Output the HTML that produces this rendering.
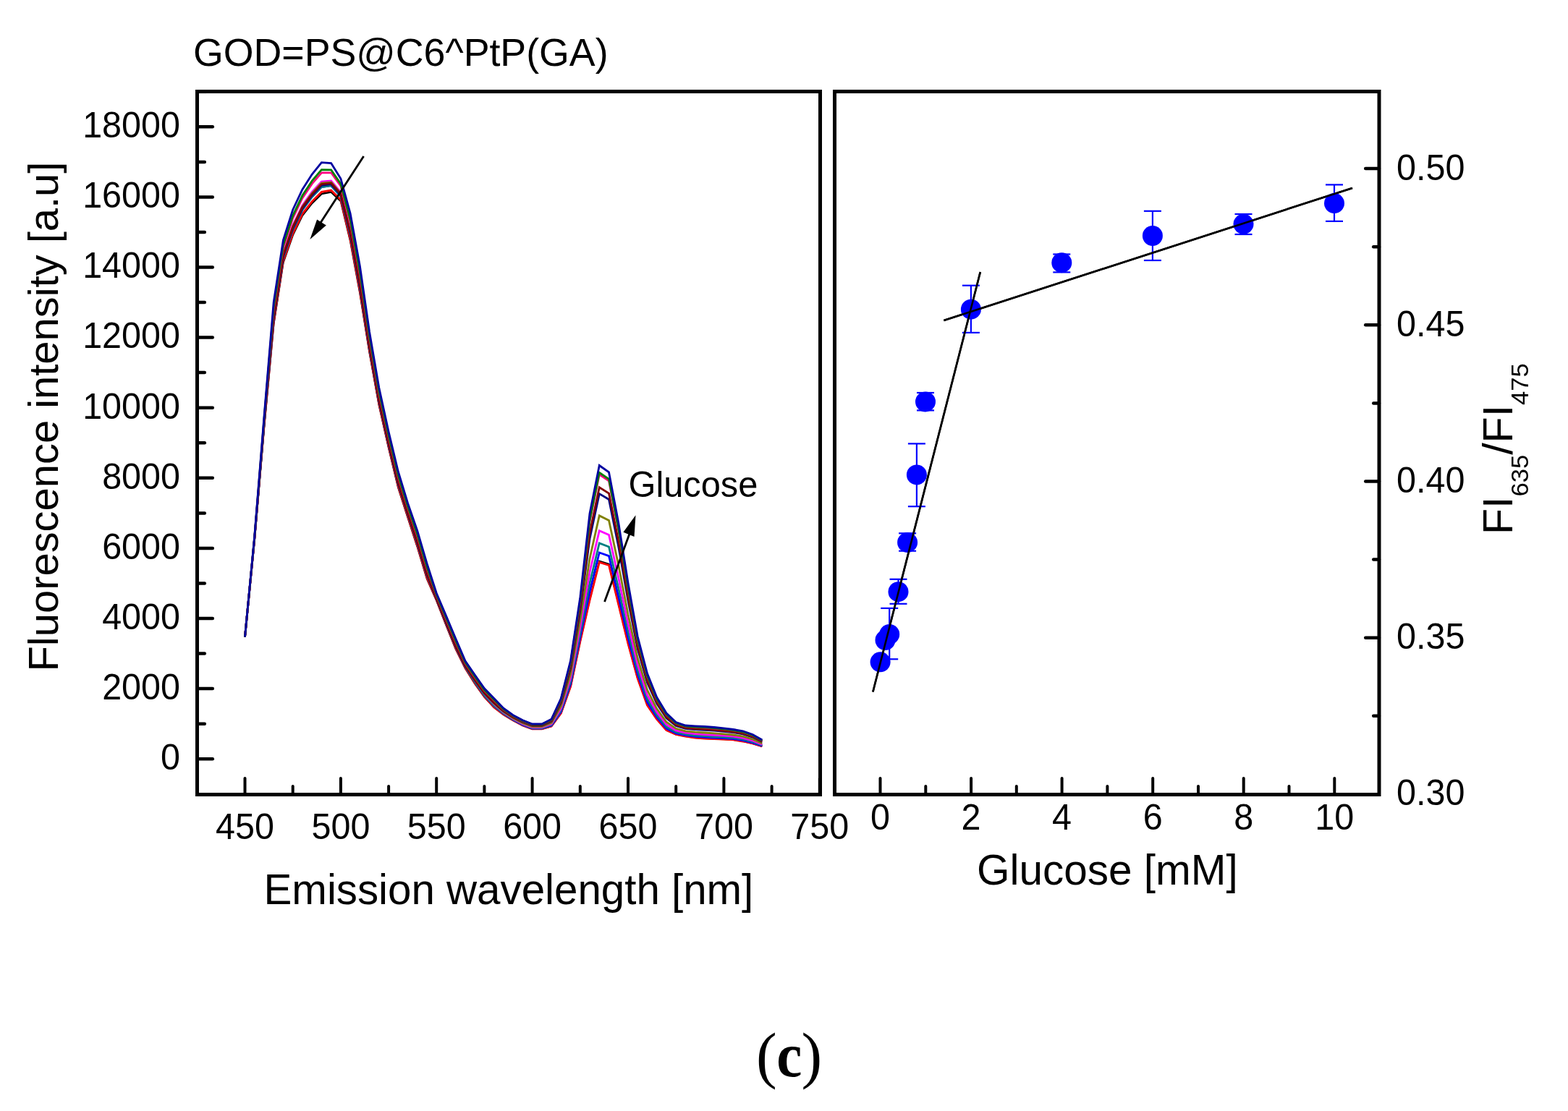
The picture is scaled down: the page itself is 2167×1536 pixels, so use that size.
<!DOCTYPE html>
<html><head><meta charset="utf-8"><title>GOD=PS@C6^PtP(GA)</title>
<style>html,body{margin:0;padding:0;background:#fff;width:2167px;height:1536px;overflow:hidden}svg{display:block}</style>
</head><body>
<svg width="2167" height="1536" viewBox="0 0 2167 1536">
<rect width="100%" height="100%" fill="#ffffff"/>
<g>
<polyline points="338.5,880.7 351.7,746.0 365.0,590.0 378.2,448.0 391.4,363.0 404.7,325.0 417.9,298.0 431.2,281.0 444.4,268.0 457.6,265.5 470.9,278.0 484.1,333.0 497.4,405.0 510.6,487.0 523.8,560.0 537.1,619.0 550.3,674.0 563.5,715.0 576.8,756.0 590.0,800.0 603.2,830.0 616.5,864.0 629.7,897.0 643.0,924.0 656.2,945.0 669.4,963.4 682.7,977.9 695.9,987.9 709.1,995.9 722.4,1002.9 735.6,1007.7 748.9,1007.7 762.1,1003.9 775.3,985.8 788.6,948.6 801.8,886.3 815.0,828.6 828.3,775.8 841.5,780.0 854.8,834.6 868.0,889.0 881.2,937.3 894.5,974.5 907.7,994.1 921.0,1009.2 934.2,1015.3 947.4,1017.8 960.7,1019.8 973.9,1020.8 987.1,1021.5 1000.4,1022.0 1013.6,1022.7 1026.8,1024.8 1040.1,1027.8 1053.3,1031.9" fill="none" stroke="#000000" stroke-width="2.5" stroke-linejoin="miter"/>
<polyline points="338.5,880.7 351.7,745.8 365.0,589.2 378.2,446.2 391.4,361.1 404.7,322.9 417.9,295.8 431.2,278.6 444.4,265.4 457.6,263.1 470.9,276.1 484.1,330.7 497.4,402.8 510.6,485.3 523.8,558.6 537.1,617.7 550.3,672.7 563.5,713.8 576.8,754.7 590.0,798.7 603.2,829.4 616.5,863.2 629.7,896.1 643.0,923.5 656.2,944.5 669.4,963.1 682.7,977.6 695.9,987.8 709.1,995.9 722.4,1002.9 735.6,1007.8 748.9,1007.8 762.1,1004.0 775.3,986.0 788.6,949.0 801.8,887.0 815.0,830.0 828.3,777.4 841.5,781.5 854.8,836.0 868.0,890.0 881.2,938.0 894.5,975.0 907.7,994.5 921.0,1009.5 934.2,1015.5 947.4,1018.0 960.7,1020.0 973.9,1021.0 987.1,1021.7 1000.4,1022.2 1013.6,1022.9 1026.8,1025.0 1040.1,1028.0 1053.3,1032.0" fill="none" stroke="#ff0000" stroke-width="2.8" stroke-linejoin="miter"/>
<polyline points="338.5,880.7 351.7,745.1 365.0,586.9 378.2,441.4 391.4,356.2 404.7,317.3 417.9,290.1 431.2,272.2 444.4,258.5 457.6,256.7 470.9,271.2 484.1,324.6 497.4,396.9 510.6,480.8 523.8,554.7 537.1,614.2 550.3,669.2 563.5,710.7 576.8,751.2 590.0,795.4 603.2,827.8 616.5,861.2 629.7,893.9 643.0,921.9 656.2,942.7 669.4,961.5 682.7,976.0 695.9,986.7 709.1,995.1 722.4,1002.2 735.6,1007.1 748.9,1007.1 762.1,1003.0 775.3,984.0 788.6,945.4 801.8,880.9 815.0,818.0 828.3,764.0 841.5,768.6 854.8,824.7 868.0,881.6 881.2,932.2 894.5,970.6 907.7,991.5 921.0,1007.1 934.2,1013.8 947.4,1016.5 960.7,1018.4 973.9,1019.4 987.1,1020.1 1000.4,1020.7 1013.6,1021.5 1026.8,1023.6 1040.1,1026.8 1053.3,1031.1" fill="none" stroke="#0000ff" stroke-width="2.8" stroke-linejoin="miter"/>
<polyline points="338.5,880.7 351.7,745.1 365.0,586.9 378.2,441.4 391.4,356.2 404.7,317.3 417.9,290.1 431.2,272.2 444.4,258.5 457.6,256.7 470.9,271.2 484.1,324.6 497.4,396.9 510.6,480.8 523.8,554.7 537.1,614.2 550.3,669.2 563.5,710.7 576.8,751.2 590.0,795.4 603.2,827.8 616.5,861.2 629.7,893.9 643.0,921.8 656.2,942.4 669.4,961.0 682.7,975.4 695.9,986.2 709.1,994.5 722.4,1001.5 735.6,1006.5 748.9,1006.5 762.1,1002.1 775.3,981.9 788.6,941.9 801.8,874.9 815.0,806.2 828.3,750.9 841.5,756.0 854.8,813.6 868.0,873.4 881.2,926.5 894.5,966.3 907.7,988.5 921.0,1004.8 934.2,1012.1 947.4,1015.0 960.7,1016.8 973.9,1017.7 987.1,1018.5 1000.4,1019.2 1013.6,1020.0 1026.8,1022.2 1040.1,1025.5 1053.3,1030.2" fill="none" stroke="#008080" stroke-width="2.8" stroke-linejoin="miter"/>
<polyline points="338.5,880.7 351.7,744.4 365.0,584.5 378.2,436.3 391.4,350.9 404.7,311.4 417.9,284.0 431.2,265.4 444.4,251.1 457.6,249.9 470.9,265.9 484.1,318.2 497.4,390.6 510.6,476.1 523.8,550.6 537.1,610.4 550.3,665.4 563.5,707.4 576.8,747.4 590.0,791.8 603.2,826.1 616.5,859.1 629.7,891.4 643.0,920.1 656.2,940.5 669.4,959.2 682.7,973.5 695.9,984.9 709.1,993.5 722.4,1000.6 735.6,1005.6 748.9,1005.6 762.1,1000.8 775.3,979.3 788.6,937.2 801.8,867.1 815.0,790.8 828.3,733.6 841.5,739.4 854.8,799.0 868.0,862.5 881.2,919.0 894.5,960.6 907.7,984.5 921.0,1001.8 934.2,1009.9 947.4,1013.1 960.7,1014.7 973.9,1015.6 987.1,1016.4 1000.4,1017.2 1013.6,1018.2 1026.8,1020.4 1040.1,1023.9 1053.3,1029.1" fill="none" stroke="#ff00ff" stroke-width="2.8" stroke-linejoin="miter"/>
<polyline points="338.5,880.7 351.7,744.6 365.0,585.2 378.2,437.8 391.4,352.5 404.7,313.1 417.9,285.8 431.2,267.4 444.4,253.2 457.6,251.9 470.9,267.5 484.1,320.1 497.4,392.4 510.6,477.5 523.8,551.8 537.1,611.5 550.3,666.5 563.5,708.4 576.8,748.5 590.0,792.9 603.2,826.6 616.5,859.7 629.7,892.1 643.0,920.4 656.2,940.5 669.4,958.9 682.7,972.8 695.9,984.2 709.1,992.7 722.4,999.6 735.6,1004.5 748.9,1004.5 762.1,999.3 775.3,976.1 788.6,931.6 801.8,857.6 815.0,772.2 828.3,712.9 841.5,719.5 854.8,781.5 868.0,849.5 881.2,910.0 894.5,953.8 907.7,979.8 921.0,998.2 934.2,1007.3 947.4,1010.8 960.7,1012.2 973.9,1013.0 987.1,1013.9 1000.4,1014.8 1013.6,1016.0 1026.8,1018.2 1040.1,1022.0 1053.3,1027.7" fill="none" stroke="#808000" stroke-width="2.8" stroke-linejoin="miter"/>
<polyline points="338.5,880.7 351.7,744.9 365.0,586.2 378.2,439.9 391.4,354.6 404.7,315.6 417.9,288.3 431.2,270.2 444.4,256.3 457.6,254.7 470.9,269.6 484.1,322.7 497.4,395.0 510.6,479.4 523.8,553.5 537.1,613.1 550.3,668.1 563.5,709.7 576.8,750.1 590.0,794.3 603.2,827.3 616.5,860.6 629.7,893.1 643.0,920.7 656.2,940.4 669.4,958.4 682.7,971.8 695.9,983.2 709.1,991.6 722.4,998.2 735.6,1003.0 748.9,1003.0 762.1,997.1 775.3,971.5 788.6,923.5 801.8,843.8 815.0,745.0 828.3,682.6 841.5,690.5 854.8,756.0 868.0,830.5 881.2,896.9 894.5,943.8 907.7,972.9 921.0,992.9 934.2,1003.5 947.4,1007.4 960.7,1008.5 973.9,1009.3 987.1,1010.2 1000.4,1011.3 1013.6,1012.7 1026.8,1014.9 1040.1,1019.1 1053.3,1025.6" fill="none" stroke="#000080" stroke-width="2.8" stroke-linejoin="miter"/>
<polyline points="338.5,880.7 351.7,744.8 365.0,585.7 378.2,438.7 391.4,353.4 404.7,314.1 417.9,286.8 431.2,268.6 444.4,254.5 457.6,253.1 470.9,268.4 484.1,321.2 497.4,393.5 510.6,478.3 523.8,552.6 537.1,612.2 550.3,667.2 563.5,709.0 576.8,749.2 590.0,793.5 603.2,826.9 616.5,860.1 629.7,892.6 643.0,920.2 656.2,939.9 669.4,957.8 682.7,971.2 695.9,982.7 709.1,991.2 722.4,997.8 735.6,1002.5 748.9,1002.5 762.1,996.5 775.3,970.1 788.6,921.1 801.8,839.8 815.0,737.1 828.3,673.8 841.5,682.0 854.8,748.5 868.0,825.0 881.2,893.1 894.5,940.9 907.7,970.9 921.0,991.3 934.2,1002.3 947.4,1006.4 960.7,1007.5 973.9,1008.2 987.1,1009.2 1000.4,1010.3 1013.6,1011.8 1026.8,1014.0 1040.1,1018.3 1053.3,1025.0" fill="none" stroke="#800000" stroke-width="2.8" stroke-linejoin="miter"/>
<polyline points="338.5,880.7 351.7,743.3 365.0,580.6 378.2,427.9 391.4,342.2 404.7,301.6 417.9,273.9 431.2,254.2 444.4,238.9 457.6,238.8 470.9,257.2 484.1,307.5 497.4,380.2 510.6,468.2 523.8,543.9 537.1,604.3 550.3,659.3 563.5,701.9 576.8,741.3 590.0,785.9 603.2,823.3 616.5,855.6 629.7,887.4 643.0,916.9 656.2,936.2 669.4,954.6 682.7,968.1 695.9,980.8 709.1,989.8 722.4,996.6 735.6,1001.6 748.9,1001.6 762.1,995.2 775.3,967.4 788.6,916.3 801.8,831.7 815.0,721.2 828.3,656.0 841.5,664.9 854.8,733.5 868.0,813.8 881.2,885.4 894.5,935.1 907.7,966.8 921.0,988.2 934.2,1000.1 947.4,1004.4 960.7,1005.3 973.9,1006.0 987.1,1007.0 1000.4,1008.2 1013.6,1009.8 1026.8,1012.1 1040.1,1016.7 1053.3,1023.8" fill="none" stroke="#ff0080" stroke-width="2.8" stroke-linejoin="miter"/>
<polyline points="338.5,880.7 351.7,742.9 365.0,579.2 378.2,424.9 391.4,339.1 404.7,298.1 417.9,270.3 431.2,250.2 444.4,234.6 457.6,234.8 470.9,254.1 484.1,303.7 497.4,376.5 510.6,465.4 523.8,541.5 537.1,602.1 550.3,657.1 563.5,700.0 576.8,739.1 590.0,783.8 603.2,822.3 616.5,854.3 629.7,886.0 643.0,915.9 656.2,935.3 669.4,953.8 682.7,967.3 695.9,980.4 709.1,989.5 722.4,996.4 735.6,1001.5 748.9,1001.5 762.1,995.0 775.3,967.0 788.6,915.7 801.8,830.5 815.0,718.9 828.3,653.4 841.5,662.4 854.8,731.4 868.0,812.2 881.2,884.3 894.5,934.3 907.7,966.3 921.0,987.7 934.2,999.8 947.4,1004.1 960.7,1005.0 973.9,1005.7 987.1,1006.7 1000.4,1007.9 1013.6,1009.6 1026.8,1011.9 1040.1,1016.4 1053.3,1023.7" fill="none" stroke="#008000" stroke-width="2.8" stroke-linejoin="miter"/>
<polyline points="338.5,880.7 351.7,742.0 365.0,576.0 378.2,418.0 391.4,332.0 404.7,290.0 417.9,262.0 431.2,241.0 444.4,224.6 457.6,225.6 470.9,247.0 484.1,295.0 497.4,368.0 510.6,459.0 523.8,536.0 537.1,597.0 550.3,652.0 563.5,695.5 576.8,734.0 590.0,779.0 603.2,820.0 616.5,851.4 629.7,882.7 643.0,913.8 656.2,933.0 669.4,951.8 682.7,965.4 695.9,979.2 709.1,988.7 722.4,995.7 735.6,1001.0 748.9,1001.0 762.1,994.3 775.3,965.5 788.6,913.0 801.8,826.0 815.0,710.0 828.3,643.5 841.5,652.9 854.8,723.0 868.0,806.0 881.2,880.0 894.5,931.0 907.7,964.0 921.0,986.0 934.2,998.5 947.4,1003.0 960.7,1003.8 973.9,1004.5 987.1,1005.5 1000.4,1006.8 1013.6,1008.5 1026.8,1010.8 1040.1,1015.5 1053.3,1023.0" fill="none" stroke="#0000a0" stroke-width="2.8" stroke-linejoin="miter"/>
</g>
<line x1="502.6" y1="215.9" x2="441" y2="311" stroke="#000" stroke-width="2.8"/>
<polygon points="428.4,331.1 438.1,303.4 450.8,311.6" fill="#000"/>
<line x1="835.5" y1="831.9" x2="870" y2="738" stroke="#000" stroke-width="2.8"/>
<polygon points="878.5,712.3 861.4,735.7 876.5,742" fill="#000"/>
<rect x="272.5" y="126.5" width="861" height="972" fill="none" stroke="#000" stroke-width="5"/>
<line x1="273" y1="1049.2" x2="293.8" y2="1049.2" stroke="#000" stroke-width="4.5" stroke-linecap="round"/>
<line x1="273" y1="1000.7" x2="282.8" y2="1000.7" stroke="#000" stroke-width="4.5" stroke-linecap="round"/>
<line x1="273" y1="952.1" x2="293.8" y2="952.1" stroke="#000" stroke-width="4.5" stroke-linecap="round"/>
<line x1="273" y1="903.6" x2="282.8" y2="903.6" stroke="#000" stroke-width="4.5" stroke-linecap="round"/>
<line x1="273" y1="855.0" x2="293.8" y2="855.0" stroke="#000" stroke-width="4.5" stroke-linecap="round"/>
<line x1="273" y1="806.5" x2="282.8" y2="806.5" stroke="#000" stroke-width="4.5" stroke-linecap="round"/>
<line x1="273" y1="757.9" x2="293.8" y2="757.9" stroke="#000" stroke-width="4.5" stroke-linecap="round"/>
<line x1="273" y1="709.4" x2="282.8" y2="709.4" stroke="#000" stroke-width="4.5" stroke-linecap="round"/>
<line x1="273" y1="660.8" x2="293.8" y2="660.8" stroke="#000" stroke-width="4.5" stroke-linecap="round"/>
<line x1="273" y1="612.2" x2="282.8" y2="612.2" stroke="#000" stroke-width="4.5" stroke-linecap="round"/>
<line x1="273" y1="563.7" x2="293.8" y2="563.7" stroke="#000" stroke-width="4.5" stroke-linecap="round"/>
<line x1="273" y1="515.1" x2="282.8" y2="515.1" stroke="#000" stroke-width="4.5" stroke-linecap="round"/>
<line x1="273" y1="466.6" x2="293.8" y2="466.6" stroke="#000" stroke-width="4.5" stroke-linecap="round"/>
<line x1="273" y1="418.0" x2="282.8" y2="418.0" stroke="#000" stroke-width="4.5" stroke-linecap="round"/>
<line x1="273" y1="369.5" x2="293.8" y2="369.5" stroke="#000" stroke-width="4.5" stroke-linecap="round"/>
<line x1="273" y1="321.0" x2="282.8" y2="321.0" stroke="#000" stroke-width="4.5" stroke-linecap="round"/>
<line x1="273" y1="272.4" x2="293.8" y2="272.4" stroke="#000" stroke-width="4.5" stroke-linecap="round"/>
<line x1="273" y1="223.9" x2="282.8" y2="223.9" stroke="#000" stroke-width="4.5" stroke-linecap="round"/>
<line x1="273" y1="175.3" x2="293.8" y2="175.3" stroke="#000" stroke-width="4.5" stroke-linecap="round"/>
<line x1="275" y1="126.8" x2="285" y2="126.8" stroke="#000" stroke-width="4.5"/>
<line x1="338.5" y1="1098" x2="338.5" y2="1076.0" stroke="#000" stroke-width="4" stroke-linecap="round"/>
<line x1="404.7" y1="1098" x2="404.7" y2="1087.0" stroke="#000" stroke-width="4" stroke-linecap="round"/>
<line x1="470.9" y1="1098" x2="470.9" y2="1076.0" stroke="#000" stroke-width="4" stroke-linecap="round"/>
<line x1="537.1" y1="1098" x2="537.1" y2="1087.0" stroke="#000" stroke-width="4" stroke-linecap="round"/>
<line x1="603.2" y1="1098" x2="603.2" y2="1076.0" stroke="#000" stroke-width="4" stroke-linecap="round"/>
<line x1="669.4" y1="1098" x2="669.4" y2="1087.0" stroke="#000" stroke-width="4" stroke-linecap="round"/>
<line x1="735.6" y1="1098" x2="735.6" y2="1076.0" stroke="#000" stroke-width="4" stroke-linecap="round"/>
<line x1="801.8" y1="1098" x2="801.8" y2="1087.0" stroke="#000" stroke-width="4" stroke-linecap="round"/>
<line x1="868.0" y1="1098" x2="868.0" y2="1076.0" stroke="#000" stroke-width="4" stroke-linecap="round"/>
<line x1="934.2" y1="1098" x2="934.2" y2="1087.0" stroke="#000" stroke-width="4" stroke-linecap="round"/>
<line x1="1000.4" y1="1098" x2="1000.4" y2="1076.0" stroke="#000" stroke-width="4" stroke-linecap="round"/>
<line x1="1066.6" y1="1098" x2="1066.6" y2="1087.0" stroke="#000" stroke-width="4" stroke-linecap="round"/>
<line x1="1132.8" y1="1098" x2="1132.8" y2="1076.0" stroke="#000" stroke-width="4" stroke-linecap="round"/>
<text transform="translate(249,1064.0) scale(1,1.045)" font-family="'Liberation Sans', Arial, sans-serif" font-size="48.5" text-anchor="end">0</text>
<text transform="translate(249,966.9) scale(1,1.045)" font-family="'Liberation Sans', Arial, sans-serif" font-size="48.5" text-anchor="end">2000</text>
<text transform="translate(249,869.8) scale(1,1.045)" font-family="'Liberation Sans', Arial, sans-serif" font-size="48.5" text-anchor="end">4000</text>
<text transform="translate(249,772.7) scale(1,1.045)" font-family="'Liberation Sans', Arial, sans-serif" font-size="48.5" text-anchor="end">6000</text>
<text transform="translate(249,675.6) scale(1,1.045)" font-family="'Liberation Sans', Arial, sans-serif" font-size="48.5" text-anchor="end">8000</text>
<text transform="translate(249,578.5) scale(1,1.045)" font-family="'Liberation Sans', Arial, sans-serif" font-size="48.5" text-anchor="end">10000</text>
<text transform="translate(249,481.4) scale(1,1.045)" font-family="'Liberation Sans', Arial, sans-serif" font-size="48.5" text-anchor="end">12000</text>
<text transform="translate(249,384.3) scale(1,1.045)" font-family="'Liberation Sans', Arial, sans-serif" font-size="48.5" text-anchor="end">14000</text>
<text transform="translate(249,287.2) scale(1,1.045)" font-family="'Liberation Sans', Arial, sans-serif" font-size="48.5" text-anchor="end">16000</text>
<text transform="translate(249,190.1) scale(1,1.045)" font-family="'Liberation Sans', Arial, sans-serif" font-size="48.5" text-anchor="end">18000</text>
<text transform="translate(338.5,1159.8) scale(1,1.045)" font-family="'Liberation Sans', Arial, sans-serif" font-size="48.5" text-anchor="middle">450</text>
<text transform="translate(470.9,1159.8) scale(1,1.045)" font-family="'Liberation Sans', Arial, sans-serif" font-size="48.5" text-anchor="middle">500</text>
<text transform="translate(603.2,1159.8) scale(1,1.045)" font-family="'Liberation Sans', Arial, sans-serif" font-size="48.5" text-anchor="middle">550</text>
<text transform="translate(735.6,1159.8) scale(1,1.045)" font-family="'Liberation Sans', Arial, sans-serif" font-size="48.5" text-anchor="middle">600</text>
<text transform="translate(868.0,1159.8) scale(1,1.045)" font-family="'Liberation Sans', Arial, sans-serif" font-size="48.5" text-anchor="middle">650</text>
<text transform="translate(1000.4,1159.8) scale(1,1.045)" font-family="'Liberation Sans', Arial, sans-serif" font-size="48.5" text-anchor="middle">700</text>
<text transform="translate(1132.8,1159.8) scale(1,1.045)" font-family="'Liberation Sans', Arial, sans-serif" font-size="48.5" text-anchor="middle">750</text>
<rect x="1153.5" y="126.5" width="752.5" height="972" fill="none" stroke="#000" stroke-width="5"/>
<line x1="1216.5" y1="1098" x2="1216.5" y2="1076.0" stroke="#000" stroke-width="4" stroke-linecap="round"/>
<text transform="translate(1216.5,1146.6) scale(1,1.03)" font-family="'Liberation Sans', Arial, sans-serif" font-size="48.5" text-anchor="middle">0</text>
<line x1="1279.3" y1="1098" x2="1279.3" y2="1087.0" stroke="#000" stroke-width="4" stroke-linecap="round"/>
<line x1="1342.1" y1="1098" x2="1342.1" y2="1076.0" stroke="#000" stroke-width="4" stroke-linecap="round"/>
<text transform="translate(1342.1,1146.6) scale(1,1.03)" font-family="'Liberation Sans', Arial, sans-serif" font-size="48.5" text-anchor="middle">2</text>
<line x1="1404.8" y1="1098" x2="1404.8" y2="1087.0" stroke="#000" stroke-width="4" stroke-linecap="round"/>
<line x1="1467.6" y1="1098" x2="1467.6" y2="1076.0" stroke="#000" stroke-width="4" stroke-linecap="round"/>
<text transform="translate(1467.6,1146.6) scale(1,1.03)" font-family="'Liberation Sans', Arial, sans-serif" font-size="48.5" text-anchor="middle">4</text>
<line x1="1530.4" y1="1098" x2="1530.4" y2="1087.0" stroke="#000" stroke-width="4" stroke-linecap="round"/>
<line x1="1593.2" y1="1098" x2="1593.2" y2="1076.0" stroke="#000" stroke-width="4" stroke-linecap="round"/>
<text transform="translate(1593.2,1146.6) scale(1,1.03)" font-family="'Liberation Sans', Arial, sans-serif" font-size="48.5" text-anchor="middle">6</text>
<line x1="1656.0" y1="1098" x2="1656.0" y2="1087.0" stroke="#000" stroke-width="4" stroke-linecap="round"/>
<line x1="1718.7" y1="1098" x2="1718.7" y2="1076.0" stroke="#000" stroke-width="4" stroke-linecap="round"/>
<text transform="translate(1718.7,1146.6) scale(1,1.03)" font-family="'Liberation Sans', Arial, sans-serif" font-size="48.5" text-anchor="middle">8</text>
<line x1="1781.5" y1="1098" x2="1781.5" y2="1087.0" stroke="#000" stroke-width="4" stroke-linecap="round"/>
<line x1="1844.3" y1="1098" x2="1844.3" y2="1076.0" stroke="#000" stroke-width="4" stroke-linecap="round"/>
<text transform="translate(1844.3,1146.6) scale(1,1.03)" font-family="'Liberation Sans', Arial, sans-serif" font-size="48.5" text-anchor="middle">10</text>
<line x1="1906" y1="989.8" x2="1898.2" y2="989.8" stroke="#000" stroke-width="4.5" stroke-linecap="round"/>
<line x1="1906" y1="881.7" x2="1887.2" y2="881.7" stroke="#000" stroke-width="4.5" stroke-linecap="round"/>
<line x1="1906" y1="773.6" x2="1898.2" y2="773.6" stroke="#000" stroke-width="4.5" stroke-linecap="round"/>
<line x1="1906" y1="665.5" x2="1887.2" y2="665.5" stroke="#000" stroke-width="4.5" stroke-linecap="round"/>
<line x1="1906" y1="557.4" x2="1898.2" y2="557.4" stroke="#000" stroke-width="4.5" stroke-linecap="round"/>
<line x1="1906" y1="449.3" x2="1887.2" y2="449.3" stroke="#000" stroke-width="4.5" stroke-linecap="round"/>
<line x1="1906" y1="341.2" x2="1898.2" y2="341.2" stroke="#000" stroke-width="4.5" stroke-linecap="round"/>
<line x1="1906" y1="233.1" x2="1887.2" y2="233.1" stroke="#000" stroke-width="4.5" stroke-linecap="round"/>
<text transform="translate(1930,1113.4) scale(1,1.03)" font-family="'Liberation Sans', Arial, sans-serif" font-size="48.5">0.30</text>
<text transform="translate(1930,897.2) scale(1,1.03)" font-family="'Liberation Sans', Arial, sans-serif" font-size="48.5">0.35</text>
<text transform="translate(1930,681.0) scale(1,1.03)" font-family="'Liberation Sans', Arial, sans-serif" font-size="48.5">0.40</text>
<text transform="translate(1930,464.8) scale(1,1.03)" font-family="'Liberation Sans', Arial, sans-serif" font-size="48.5">0.45</text>
<text transform="translate(1930,248.6) scale(1,1.03)" font-family="'Liberation Sans', Arial, sans-serif" font-size="48.5">0.50</text>
<line x1="1206.4" y1="956.5" x2="1354.8" y2="376" stroke="#000" stroke-width="2.6"/>
<line x1="1304.4" y1="442.9" x2="1869" y2="260" stroke="#000" stroke-width="2.6"/>
<line x1="1229.2" y1="840.9" x2="1229.2" y2="911.3" stroke="#0000ff" stroke-width="2.2"/>
<line x1="1217.2" y1="840.9" x2="1241.2" y2="840.9" stroke="#0000ff" stroke-width="2.2"/>
<line x1="1217.2" y1="911.3" x2="1241.2" y2="911.3" stroke="#0000ff" stroke-width="2.2"/>
<line x1="1241.5" y1="800.8" x2="1241.5" y2="834.8" stroke="#0000ff" stroke-width="2.2"/>
<line x1="1229.5" y1="800.8" x2="1253.5" y2="800.8" stroke="#0000ff" stroke-width="2.2"/>
<line x1="1229.5" y1="834.8" x2="1253.5" y2="834.8" stroke="#0000ff" stroke-width="2.2"/>
<line x1="1254.1" y1="737.3" x2="1254.1" y2="761.7" stroke="#0000ff" stroke-width="2.2"/>
<line x1="1242.1" y1="737.3" x2="1266.1" y2="737.3" stroke="#0000ff" stroke-width="2.2"/>
<line x1="1242.1" y1="761.7" x2="1266.1" y2="761.7" stroke="#0000ff" stroke-width="2.2"/>
<line x1="1266.9" y1="613.4" x2="1266.9" y2="700.2" stroke="#0000ff" stroke-width="2.2"/>
<line x1="1254.9" y1="613.4" x2="1278.9" y2="613.4" stroke="#0000ff" stroke-width="2.2"/>
<line x1="1254.9" y1="700.2" x2="1278.9" y2="700.2" stroke="#0000ff" stroke-width="2.2"/>
<line x1="1279.0" y1="543.0" x2="1279.0" y2="567.4" stroke="#0000ff" stroke-width="2.2"/>
<line x1="1267.0" y1="543.0" x2="1291.0" y2="543.0" stroke="#0000ff" stroke-width="2.2"/>
<line x1="1267.0" y1="567.4" x2="1291.0" y2="567.4" stroke="#0000ff" stroke-width="2.2"/>
<line x1="1341.9" y1="394.7" x2="1341.9" y2="459.9" stroke="#0000ff" stroke-width="2.2"/>
<line x1="1329.9" y1="394.7" x2="1353.9" y2="394.7" stroke="#0000ff" stroke-width="2.2"/>
<line x1="1329.9" y1="459.9" x2="1353.9" y2="459.9" stroke="#0000ff" stroke-width="2.2"/>
<line x1="1467.3" y1="351.5" x2="1467.3" y2="376.4" stroke="#0000ff" stroke-width="2.2"/>
<line x1="1455.3" y1="351.5" x2="1479.3" y2="351.5" stroke="#0000ff" stroke-width="2.2"/>
<line x1="1455.3" y1="376.4" x2="1479.3" y2="376.4" stroke="#0000ff" stroke-width="2.2"/>
<line x1="1592.9" y1="291.8" x2="1592.9" y2="360.0" stroke="#0000ff" stroke-width="2.2"/>
<line x1="1580.9" y1="291.8" x2="1604.9" y2="291.8" stroke="#0000ff" stroke-width="2.2"/>
<line x1="1580.9" y1="360.0" x2="1604.9" y2="360.0" stroke="#0000ff" stroke-width="2.2"/>
<line x1="1718.5" y1="296.0" x2="1718.5" y2="324.0" stroke="#0000ff" stroke-width="2.2"/>
<line x1="1706.5" y1="296.0" x2="1730.5" y2="296.0" stroke="#0000ff" stroke-width="2.2"/>
<line x1="1706.5" y1="324.0" x2="1730.5" y2="324.0" stroke="#0000ff" stroke-width="2.2"/>
<line x1="1844.0" y1="255.4" x2="1844.0" y2="305.9" stroke="#0000ff" stroke-width="2.2"/>
<line x1="1832.0" y1="255.4" x2="1856.0" y2="255.4" stroke="#0000ff" stroke-width="2.2"/>
<line x1="1832.0" y1="305.9" x2="1856.0" y2="305.9" stroke="#0000ff" stroke-width="2.2"/>
<circle cx="1216.6" cy="915.3" r="14" fill="#0000ff"/>
<circle cx="1223.5" cy="885.0" r="14" fill="#0000ff"/>
<circle cx="1229.2" cy="877.0" r="14" fill="#0000ff"/>
<circle cx="1241.5" cy="818.2" r="14" fill="#0000ff"/>
<circle cx="1254.1" cy="749.9" r="14" fill="#0000ff"/>
<circle cx="1266.9" cy="656.4" r="14" fill="#0000ff"/>
<circle cx="1279.0" cy="555.4" r="14" fill="#0000ff"/>
<circle cx="1341.9" cy="427.7" r="14" fill="#0000ff"/>
<circle cx="1467.3" cy="363.2" r="14" fill="#0000ff"/>
<circle cx="1592.9" cy="326.0" r="14" fill="#0000ff"/>
<circle cx="1718.5" cy="309.8" r="14" fill="#0000ff"/>
<circle cx="1844.0" cy="281.1" r="14" fill="#0000ff"/>
<line x1="1206.4" y1="956.5" x2="1354.8" y2="376" stroke="#000" stroke-width="2.6"/>
<line x1="1304.4" y1="442.9" x2="1869" y2="260" stroke="#000" stroke-width="2.6"/>
<text transform="translate(267,91.2) scale(1.004,1.02)" font-family="'Liberation Sans', Arial, sans-serif" font-size="53.5">GOD=PS@C6^PtP(GA)</text>
<text transform="translate(868.5,686.9) scale(0.985,1.02)" font-family="'Liberation Sans', Arial, sans-serif" font-size="49.5">Glucose</text>
<text transform="translate(80,928.5) rotate(-90) scale(0.99,0.975)" font-family="'Liberation Sans', Arial, sans-serif" font-size="58.5">Fluorescence intensity [a.u]</text>
<text transform="translate(364.5,1250) scale(0.996,1.02)" font-family="'Liberation Sans', Arial, sans-serif" font-size="58.5">Emission wavelength [nm]</text>
<text x="1350" y="1223.1" font-family="'Liberation Sans', Arial, sans-serif" font-size="58.5">Glucose [mM]</text>
<text transform="translate(2089.8,739) rotate(-90) scale(1.018,1)" font-family="'Liberation Sans', Arial, sans-serif" font-size="58">FI<tspan font-size="34" dy="22">635</tspan><tspan dy="-22">/FI</tspan><tspan font-size="34" dy="22">475</tspan></text>
<text x="1045" y="1487.5" font-family="'Liberation Serif', 'Times New Roman', serif" font-size="86">(</text>
<text transform="translate(1073.2,1487.5) scale(0.92,1)" font-family="'Liberation Serif', 'Times New Roman', serif" font-weight="bold" font-size="86">c</text>
<text x="1107.5" y="1487.5" font-family="'Liberation Serif', 'Times New Roman', serif" font-size="86">)</text>
</svg>
</body></html>
